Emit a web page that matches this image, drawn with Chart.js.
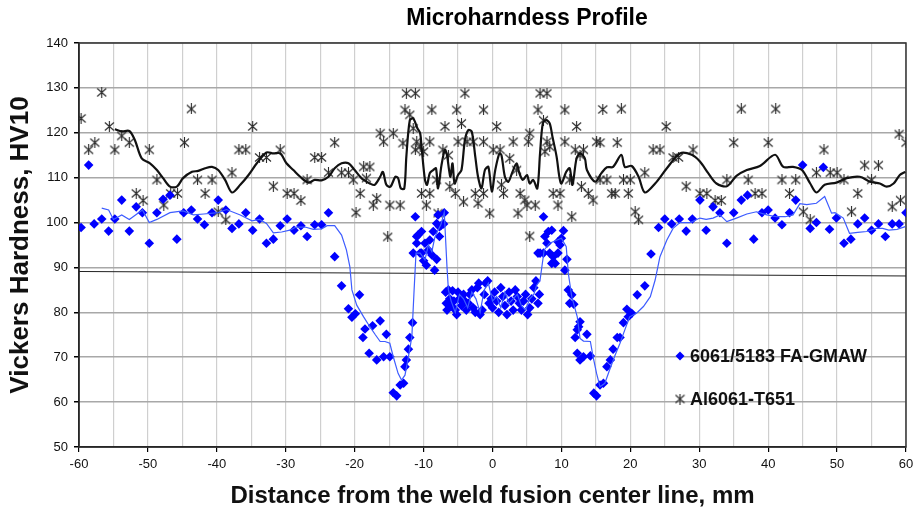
<!DOCTYPE html>
<html><head><meta charset="utf-8">
<script src="https://cdn.jsdelivr.net/npm/chart.js@4.4.1/dist/chart.umd.min.js"></script>
<style>html,body{margin:0;padding:0;background:#fff;}#wrap{width:914px;height:515px;position:relative;}</style>
</head><body><div id="wrap"><canvas id="c" width="914" height="515"></canvas></div>
<script>
const chartTitle = 'Microharndess Profile';
const xAxisTitle = 'Distance from the weld fusion center line, mm';
const yAxisTitle = 'Vickers Hardness, HV10';
const seriesNames = ['6061/5183 FA-GMAW', 'Al6061-T651'];
const xTickLabels = [-60, -50, -40, -30, -20, -10, 0, 10, 20, 30, 40, 50, 60];
const yTickLabels = [50, 60, 70, 80, 90, 100, 110, 120, 130, 140];

// 6061/5183 FA-GMAW measured points [mm, HV10]
const weldLeft = [[-59.7,98.9],[-58.6,112.8],[-57.8,99.7],[-56.7,100.8],[-55.7,98.1],[-54.8,100.8],[-53.8,105.0],[-52.7,98.1],[-51.7,103.5],[-50.8,102.2],[-49.8,95.4],[-48.7,102.2],[-47.8,105.2],[-46.8,106.1],[-45.8,96.3],[-44.8,102.2],[-43.7,102.8],[-42.8,100.8],[-41.8,99.5],[-40.7,102.2],[-39.8,105.0],[-38.7,102.8],[-37.8,98.7],[-36.8,99.7],[-35.8,102.2],[-34.8,98.3],[-33.8,100.8],[-32.8,95.4],[-31.8,96.3],[-30.8,99.3],[-29.8,100.8],[-28.8,98.3],[-27.8,99.3],[-26.9,96.9],[-25.8,99.5],[-24.8,99.5],[-23.8,102.2],[-22.9,92.4],[-21.9,85.9],[-20.9,80.8],[-20.4,78.9],[-19.9,79.7],[-19.3,83.9],[-18.8,74.4],[-18.5,76.3],[-17.9,70.9],[-17.4,77.0],[-16.8,69.4],[-16.3,78.1],[-15.8,70.1],[-15.4,75.1],[-14.9,70.1],[-14.4,62.1],[-13.9,61.4],[-13.4,63.8],[-12.9,64.2],[-12.7,67.9],[-12.5,69.4],[-12.2,71.8],[-12.0,74.4],[-11.6,77.7]];
const weldSpikeL = [[-11.5,93.2],[-11.2,101.3],[-11.0,96.9],[-11.0,95.4],[-10.8,97.2],[-10.5,93.2],[-10.3,98.0],[-10.3,93.2],[-10.0,91.5],[-9.8,95.4],[-9.6,90.5],[-9.3,93.9],[-9.1,96.1],[-8.8,92.8],[-8.6,98.0],[-8.4,89.4],[-8.1,91.8],[-8.1,99.8],[-7.9,101.7],[-7.7,96.9],[-7.7,99.1],[-7.5,99.3],[-7.1,99.7],[-7.0,102.2]];
const weldCenter = [[-6.8,84.5],[-6.7,82.0],[-6.6,80.5],[-6.4,85.0],[-6.2,83.0],[-6.0,81.5],[-5.8,84.8],[-5.6,82.5],[-5.4,80.5],[-5.2,79.5],[-5.0,84.5],[-4.8,83.0],[-4.5,81.5],[-4.2,84.0],[-4.0,82.5],[-3.8,80.5],[-3.5,82.0],[-3.3,84.0],[-3.0,85.0],[-2.8,81.0],[-2.5,80.0],[-2.2,85.5],[-2.0,86.5],[-1.8,79.5],[-1.5,80.5],[-1.2,84.0],[-1.0,86.5],[-0.7,87.0],[-0.5,82.0],[-0.2,83.0],[0.0,81.0],[0.3,84.5],[0.6,82.5],[0.9,80.0],[1.2,85.5],[1.5,83.5],[1.8,81.5],[2.1,79.5],[2.4,84.5],[2.7,82.5],[3.0,80.5],[3.3,85.0],[3.6,83.5],[3.9,82.0],[4.2,80.5],[4.5,82.5],[4.8,84.0],[5.1,79.5],[5.4,81.0],[5.7,83.0],[6.0,85.5],[6.3,87.0],[6.6,82.0],[6.8,84.0]];
const weldSpikeR = [[6.6,93.2],[6.9,93.2],[7.4,93.2],[7.4,101.3],[7.6,96.9],[7.9,95.4],[8.1,98.0],[8.3,93.2],[8.6,98.3],[8.6,90.9],[8.8,92.4],[9.1,90.9],[9.5,93.2],[9.5,95.7],[9.8,95.0],[10.0,96.5],[10.3,98.2],[10.5,89.4],[10.8,91.8]];
const weldRight = [[11.0,85.0],[11.2,82.0],[11.5,83.9],[11.8,81.8],[12.0,74.4],[12.3,76.1],[12.3,70.9],[12.5,76.8],[12.7,77.9],[12.7,69.4],[13.2,70.1],[13.7,75.1],[14.2,70.3],[14.7,62.0],[15.1,61.4],[15.6,63.8],[16.1,64.2],[16.6,67.9],[17.1,69.4],[17.5,71.8],[18.1,74.4],[18.5,74.4],[19.0,77.7],[19.5,80.7],[19.7,79.0],[20.2,79.8],[21.0,83.9],[22.1,85.9],[23.0,93.0],[24.1,98.9],[25.0,100.8],[26.0,99.7],[27.1,100.8],[28.1,98.1],[29.0,100.8],[30.1,105.0],[31.0,98.3],[32.0,103.5],[33.0,102.2],[34.0,95.4],[35.0,102.2],[36.1,105.0],[37.0,106.1],[37.9,96.3],[39.1,102.2],[40.0,102.8],[41.0,101.0],[42.0,99.5],[43.1,102.2],[44.0,105.0],[45.0,112.8],[46.1,98.7],[47.0,100.0],[48.0,112.3],[48.9,98.5],[49.9,101.0],[51.0,95.4],[52.0,96.3],[53.0,99.7],[54.0,101.0],[55.0,98.3],[56.0,99.7],[57.0,96.9],[58.0,99.7],[59.0,99.7],[60.0,102.2]];

// Al6061-T651 measured points [mm, HV10]
const baseLeft = [[-59.7,123.2],[-58.6,116.2],[-57.7,117.8],[-56.7,129.0],[-55.6,121.4],[-54.8,116.2],[-53.8,119.3],[-52.7,117.8],[-51.7,106.5],[-50.7,104.9],[-49.8,116.2],[-48.7,109.5],[-47.7,103.9],[-46.7,106.5],[-45.7,106.5],[-44.7,117.8],[-43.7,125.3],[-42.8,109.5],[-41.7,106.5],[-40.7,109.5],[-39.8,102.4],[-38.7,100.6],[-37.8,111.1],[-36.8,116.2],[-35.8,116.2],[-34.8,121.4],[-33.8,114.5],[-32.8,114.5],[-31.8,108.1],[-30.8,116.2],[-29.8,106.5],[-28.8,106.5],[-27.8,104.9],[-26.9,109.5],[-25.8,114.5],[-24.8,114.5],[-23.8,111.1],[-22.9,117.8],[-21.9,111.1],[-20.9,111.1],[-20.2,109.5],[-19.8,102.2],[-19.2,106.5],[-18.7,112.4],[-18.3,109.9],[-17.8,112.4],[-17.3,103.9],[-16.8,105.4],[-16.3,119.9],[-15.8,118.0],[-15.2,96.8],[-14.9,103.9],[-14.4,119.9],[-13.4,103.9],[-13.0,117.7]];
const baseCenter = [[-12.7,125.1],[-12.5,128.8],[-12.0,124.0],[-11.5,121.0],[-11.2,128.8],[-11.2,116.2],[-11.0,118.0],[-10.5,116.9],[-10.3,106.5],[-10.0,115.8],[-9.6,103.9],[-9.1,118.0],[-9.1,106.5],[-8.8,125.1],[-8.1,109.5],[-7.9,102.1],[-7.2,116.2],[-6.9,121.4],[-6.4,115.0],[-6.2,108.0],[-5.4,106.5],[-5.2,125.1],[-5.0,118.0],[-4.5,122.1],[-4.2,104.6],[-4.0,128.8],[-3.7,118.0],[-2.8,118.0],[-2.5,106.5],[-2.1,104.3],[-1.3,125.1],[-1.3,118.0],[-1.3,106.5],[-0.4,102.1],[0.1,116.2],[0.6,121.4],[1.1,116.2],[1.3,108.4],[1.6,106.5],[2.5,114.3],[3.0,118.0],[3.5,111.7],[3.7,102.1],[4.0,106.5],[4.7,105.0],[5.0,103.9],[5.2,118.0],[5.4,119.9],[5.4,97.0],[6.2,103.9],[6.6,125.1],[6.9,128.8],[7.4,122.8],[7.6,115.8],[7.9,128.8],[7.9,118.0],[8.3,116.9],[8.8,106.5],[9.5,103.9],[9.8,106.5],[10.5,125.1],[10.5,118.0],[11.2,109.5],[11.5,101.3],[12.0,116.2],[12.2,121.4]];
const baseRight = [[12.7,115.0],[12.9,108.0],[13.2,116.2],[13.9,106.5],[14.6,105.0],[15.1,118.0],[15.6,109.5],[16.0,125.2],[15.6,117.8],[16.6,109.5],[17.3,106.5],[17.8,106.5],[18.1,117.8],[18.7,125.3],[19.0,109.5],[19.7,106.5],[20.0,109.5],[20.7,102.4],[21.2,100.6],[22.1,111.1],[23.3,116.2],[24.3,116.2],[25.2,121.4],[26.2,114.5],[27.0,114.5],[28.1,108.1],[29.1,116.2],[30.1,106.5],[31.1,106.5],[32.3,104.9],[33.2,104.9],[34.0,109.5],[35.0,117.8],[36.1,125.3],[37.1,109.5],[38.1,106.5],[39.1,106.5],[40.0,117.8],[41.1,125.3],[42.0,109.5],[43.1,106.5],[44.0,109.5],[45.1,102.4],[46.1,100.6],[47.0,111.1],[48.1,116.2],[49.0,111.1],[50.0,111.1],[51.0,109.5],[52.1,102.4],[53.0,106.5],[54.0,112.8],[55.0,109.5],[56.0,112.8],[58.0,103.5],[59.2,105.0],[59.0,119.7],[60.0,117.8]];

// moving-average trend lines
const weldTrend = [[-56.7,103.2],[-55.7,102.8],[-55.0,100.7],[-53.8,101.7],[-52.7,100.7],[-51.8,101.7],[-50.8,102.8],[-49.8,100.0],[-48.7,100.7],[-46.8,102.2],[-44.9,102.6],[-43.4,101.7],[-41.9,101.9],[-39.8,102.2],[-38.6,102.9],[-36.6,101.7],[-34.9,100.4],[-33.8,100.7],[-32.8,99.8],[-31.8,97.7],[-30.6,97.9],[-29.4,98.3],[-28.5,99.0],[-27.2,99.0],[-26.0,98.5],[-24.8,98.6],[-24.0,99.3],[-22.9,99.3],[-21.9,97.2],[-21.2,93.9],[-20.7,90.2],[-20.4,85.0],[-19.7,81.6],[-18.7,79.0],[-17.8,76.8],[-17.0,75.0],[-16.3,73.5],[-15.6,73.5],[-14.9,73.1],[-14.4,70.1],[-13.7,66.4],[-13.2,64.9],[-12.7,66.0],[-12.2,70.1],[-11.7,74.6],[-11.4,84.2],[-11.1,93.2],[-10.5,93.2],[-9.8,91.7],[-9.3,95.0],[-8.8,93.5],[-8.4,96.5],[-8.0,98.0],[-7.5,99.5],[-7.0,102.3],[-6.6,90.0],[-6.4,85.0],[-6.0,82.5],[-5.4,80.0],[-4.8,84.0],[-4.2,83.0],[-3.6,81.0],[-3.0,84.5],[-2.4,83.0],[-1.8,80.0],[-1.2,85.0],[-0.6,86.5],[0.0,82.5],[0.6,83.5],[1.2,81.0],[1.8,84.5],[2.4,82.0],[3.0,83.0],[3.6,84.0],[4.2,81.5],[4.8,80.5],[5.4,83.0],[6.0,84.0],[6.4,86.0],[6.9,87.2],[7.5,93.9],[8.3,95.4],[9.2,96.0],[10.0,96.5],[10.7,94.6],[11.0,88.7],[11.5,83.5],[12.3,79.0],[12.7,74.2],[13.2,73.6],[14.2,73.5],[14.6,70.1],[15.1,66.4],[15.6,63.4],[16.3,64.2],[17.0,67.2],[17.8,70.5],[18.5,73.1],[19.2,76.1],[19.9,79.0],[20.9,79.8],[21.9,81.3],[22.9,83.5],[23.6,87.2],[24.3,92.4],[25.3,96.1],[26.2,98.7],[27.2,100.0],[28.7,100.0],[30.1,101.0],[31.0,100.7],[32.0,101.0],[33.0,101.7],[34.0,100.2],[35.4,101.0],[36.9,101.9],[38.3,102.4],[39.8,101.7],[41.2,101.3],[42.5,101.3],[43.6,101.7],[44.6,104.2],[45.6,104.0],[47.0,104.3],[48.2,105.8],[49.2,102.1],[49.7,102.2],[50.9,101.0],[51.8,97.6],[53.0,97.8],[54.3,98.0],[55.7,98.7],[56.6,98.7],[57.5,98.3],[58.7,98.5],[59.9,99.1]];
const baseTrend = [[-54.8,120.8],[-53.8,120.3],[-52.7,120.4],[-51.9,118.4],[-50.9,114.3],[-49.7,113.2],[-48.7,111.7],[-47.8,109.9],[-46.8,108.0],[-45.8,108.0],[-44.9,109.9],[-43.6,111.3],[-42.7,111.5],[-41.7,112.1],[-40.7,112.4],[-39.8,111.7],[-38.8,109.5],[-37.8,106.7],[-36.6,108.4],[-35.4,110.6],[-34.2,113.2],[-32.8,115.6],[-31.8,115.4],[-30.8,115.4],[-29.9,113.2],[-28.9,111.7],[-27.9,110.2],[-26.7,108.9],[-25.8,109.5],[-24.8,109.4],[-23.8,110.2],[-22.9,112.1],[-21.9,113.2],[-20.9,113.2],[-20.0,111.7],[-19.2,110.2],[-18.7,109.5],[-17.8,108.7],[-17.1,108.4],[-16.3,110.2],[-15.9,111.3],[-15.4,108.4],[-14.8,108.0],[-14.1,110.2],[-13.7,109.9],[-13.3,107.6],[-12.8,107.6],[-12.5,114.7],[-12.0,122.8],[-11.5,123.2],[-10.9,121.0],[-10.5,119.9],[-10.3,116.9],[-9.8,109.5],[-9.5,108.4],[-9.1,111.0],[-8.6,111.7],[-8.2,112.1],[-7.9,107.6],[-7.4,112.8],[-6.9,116.2],[-6.6,115.0],[-6.3,111.7],[-6.1,110.2],[-5.8,113.2],[-5.5,108.7],[-5.0,110.6],[-4.5,111.7],[-4.0,118.4],[-3.5,120.6],[-3.0,120.2],[-2.5,114.7],[-2.1,110.2],[-1.6,107.6],[-1.1,111.7],[-0.6,112.4],[-0.1,106.9],[0.4,111.7],[1.0,115.4],[1.3,115.0],[1.8,110.2],[2.3,109.1],[2.9,111.3],[3.5,113.2],[3.9,111.0],[4.4,109.5],[5.0,110.6],[5.4,108.7],[5.9,109.5],[6.5,107.6],[6.9,115.4],[7.3,122.1],[7.8,122.8],[8.3,122.1],[8.7,119.1],[9.3,114.7],[9.7,110.2],[10.0,108.7],[10.7,111.3],[11.2,112.1],[11.6,108.4],[12.2,114.3],[12.7,115.4],[13.4,114.3],[13.7,111.7],[14.9,109.1],[15.8,111.0],[16.6,112.3],[17.5,112.4],[18.7,115.1],[19.2,112.4],[20.2,112.6],[21.2,110.2],[22.1,106.7],[23.6,108.7],[25.3,112.1],[27.2,115.4],[28.9,115.1],[30.1,113.6],[31.3,111.0],[32.5,108.7],[34.0,108.1],[35.4,110.4],[36.9,111.7],[38.8,112.6],[41.0,115.1],[42.2,112.4],[43.6,112.4],[44.9,111.7],[46.1,108.7],[47.0,106.7],[48.2,108.4],[49.9,108.9],[51.4,109.9],[53.3,110.2],[54.8,109.1],[56.2,108.7],[57.2,108.0],[58.2,108.7],[59.1,110.6],[59.9,111.3]];
// reference level line
const refLine = [[-60, 89.1], [60, 88.1]];

const weldPts = [].concat(weldLeft, weldSpikeL, weldCenter, weldSpikeR, weldRight);
const basePts = [].concat(baseLeft, baseCenter, baseRight);
const toXY = a => a.map(p => ({x: p[0], y: p[1]}));

function makeStar(size, color) {
  const c = document.createElement('canvas');
  c.width = size; c.height = size;
  const g = c.getContext('2d');
  g.strokeStyle = color; g.lineWidth = 1.1;
  g.beginPath();
  g.moveTo(1, 1.5); g.lineTo(size - 1, size - 1.5);
  g.moveTo(size - 1, 1.5); g.lineTo(1, size - 1.5);
  g.moveTo(size / 2, 0); g.lineTo(size / 2, size);
  g.stroke();
  return c;
}
const starImg = makeStar(11, '#2a2a2a');
const BLUE = '#0000ff';

const boxPlugin = {
  id: 'box',
  beforeDatasetsDraw(chart) {
    const {ctx, chartArea: a} = chart;
    ctx.save();
    ctx.strokeStyle = '#333';
    ctx.lineWidth = 1.5;
    ctx.strokeRect(a.left, a.top, a.right - a.left, a.bottom - a.top);
    ctx.restore();
  }
};
const textPlugin = {
  id: 'texts',
  afterDraw(chart) {
    const {ctx} = chart;
    ctx.save();
    ctx.fillStyle = '#000';
    ctx.font = 'bold 23px "Liberation Sans", Arial, sans-serif';
    ctx.textAlign = 'center'; ctx.textBaseline = 'middle';
    ctx.fillText(chartTitle, 527, 19);
    // legend
    const lx = 680, ly1 = 356, ly2 = 399;
    ctx.fillStyle = BLUE;
    ctx.beginPath();
    ctx.moveTo(lx, ly1 - 4.5); ctx.lineTo(lx + 4.5, ly1); ctx.lineTo(lx, ly1 + 4.5); ctx.lineTo(lx - 4.5, ly1); ctx.closePath();
    ctx.fill();
    ctx.drawImage(starImg, lx - 5.5, ly2 - 5.5);
    ctx.fillStyle = '#111';
    ctx.font = 'bold 18px "Liberation Sans", Arial, sans-serif';
    ctx.textAlign = 'left';
    ctx.fillText(seriesNames[0], lx + 10, ly1 + 1);
    ctx.fillText(seriesNames[1], lx + 10, ly2 + 1);
    ctx.restore();
  }
};

new Chart(document.getElementById('c'), {
  type: 'scatter',
  data: {
    datasets: [
      {label: 'weldTrend', type: 'line', data: toXY(weldTrend), borderColor: '#3d5cff', borderWidth: 1.2, pointRadius: 0, tension: 0, order: 0},
      {label: 'baseTrend', type: 'line', data: toXY(baseTrend), borderColor: '#111', borderWidth: 2.2, pointRadius: 0, tension: 0.3, order: 1},
      {label: seriesNames[0], data: toXY(weldPts), pointStyle: 'rectRot', pointRadius: 4.8, backgroundColor: BLUE, borderColor: BLUE, borderWidth: 0, order: 2},
      {label: seriesNames[1], data: toXY(basePts), pointStyle: starImg, order: 3},
      {label: 'ref', type: 'line', data: toXY(refLine), borderColor: '#222', borderWidth: 1, pointRadius: 0, order: 4}
    ]
  },
  options: {
    responsive: false, animation: false, devicePixelRatio: 1,
    layout: {padding: {top: 43, right: 8, left: 0, bottom: 0}},
    plugins: {legend: {display: false}, title: {display: false}, tooltip: {enabled: false}},
    scales: {
      x: {
        type: 'linear', min: xTickLabels[0], max: xTickLabels[xTickLabels.length - 1],
        afterFit(s) { s.height = 68; s.paddingRight = 0; s.paddingLeft = 0; },
        grid: {color: '#cfcfcf', lineWidth: 1.2, tickLength: 5,
          tickColor: c => (c.tick && c.tick.value % 10 === 0) ? '#000' : 'rgba(0,0,0,0)'},
        border: {color: '#000', width: 1.5},
        ticks: {stepSize: 5, autoSkip: false, maxRotation: 0, padding: 5, color: '#111',
          font: {family: '"Liberation Sans", Arial, sans-serif', size: 13},
          callback: v => xTickLabels.includes(v) ? String(v) : ''},
        title: {display: true, text: xAxisTitle, color: '#111', padding: {bottom: 4, top: 0},
          font: {family: '"Liberation Sans", Arial, sans-serif', size: 24, weight: 'bold'}}
      },
      y: {
        type: 'linear', min: yTickLabels[0], max: yTickLabels[yTickLabels.length - 1],
        afterFit(s) { s.width = 79; },
        grid: {color: '#a8a8a8', lineWidth: 1.5, tickLength: 5, tickColor: '#000'},
        border: {color: '#000', width: 1.5},
        ticks: {stepSize: 10, padding: 6, color: '#111',
          font: {family: '"Liberation Sans", Arial, sans-serif', size: 13},
          callback: v => yTickLabels.includes(v) ? String(v) : ''},
        title: {display: true, text: yAxisTitle, color: '#111', padding: {top: 5, bottom: 0},
          font: {family: '"Liberation Sans", Arial, sans-serif', size: 26, weight: 'bold'}}
      }
    }
  },
  plugins: [boxPlugin, textPlugin]
});
</script></body></html>
